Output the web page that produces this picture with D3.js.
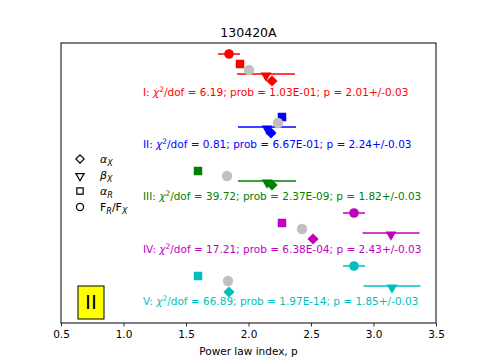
<!DOCTYPE html>
<html>
<head>
<meta charset="utf-8">
<script src="https://cdn.jsdelivr.net/npm/d3@7"></script>
<style>
  body { margin: 0; background: #fff; }
  text { font-family: "DejaVu Sans", sans-serif; }
</style>
</head>
<body>
<svg width="485" height="364"></svg>
<script>
// rows of the fit, one colour each
var rowNames = ["I", "II", "III", "IV", "V"];
var rowColors = ["#ff0000", "#0000ff", "#008000", "#bf00bf", "#00bfbf"];
var chi2 = ["6.19", "0.81", "39.72", "17.21", "66.89"];
var probs = ["1.03E-01", "6.67E-01", "2.37E-09", "6.38E-04", "1.97E-14"];
var pvals = ["2.01", "2.24", "1.82", "2.43", "1.85"];
var perrs = ["0.03", "0.03", "0.03", "0.03", "0.03"];
var textX = 1.156;
var textY = [11.35, 8.75, 6.15, 3.5, 0.9];

// alpha_X (diamonds)
var alphaX = [2.188, 2.18, 2.188, 2.516, 1.844];
var alphaXY = [12.1, 9.5, 6.9, 4.2, 1.55];
// beta_X (triangles, with error)
var betaX = [2.14, 2.148, 2.148, 3.14, 3.148];
var betaXErr = [0.232, 0.232, 0.232, 0.228, 0.228];
var betaXY = [12.45, 9.8, 7.1, 4.5, 1.85];
// alpha_R (squares)
var alphaR = [1.932, 2.268, 1.596, 2.268, 1.596];
var alphaRY = [12.95, 10.3, 7.6, 5.0, 2.35];
// F_R/F_X (circles, with error); none for II and III
var ratio = [1.844, null, null, 2.844, 2.844];
var ratioErr = [0.088, null, null, 0.088, 0.088];
var ratioY = [13.45, null, null, 5.5, 2.85];
// grey reference points
var grey = [2.004, 2.236, 1.828, 2.428, 1.836];
var greyY = [12.65, 10.0, 7.35, 4.7, 2.1];

var xTicks = [0.5, 1.0, 1.5, 2.0, 2.5, 3.0, 3.5];

var svg = d3.select("svg");
var pLeft = 61, pRight = 436, pTop = 43, pBottom = 323;

var x = d3.scaleLinear().domain([0.5, 3.5]).range([pLeft, pRight]);
var y = d3.scaleLinear().domain([0, 14]).range([pBottom, pTop]);

svg.append("text")
  .attr("x", (pLeft + pRight) / 2).attr("y", 37)
  .attr("text-anchor", "middle")
  .style("font-size", "12.5px")
  .text("130420A");

var xAxis = d3.axisBottom(x).tickValues(xTicks).tickFormat(d3.format(".1f")).tickSize(3.5).tickPadding(4.5);
var gx = svg.append("g").attr("transform", "translate(0," + pBottom + ")").call(xAxis);
gx.select(".domain").remove();
gx.selectAll("text").style("font-size", "10.5px").style("font-family", "DejaVu Sans");
gx.selectAll("line").attr("stroke", "#000").attr("stroke-width", 0.8);

svg.append("text")
  .attr("x", (pLeft + pRight) / 2).attr("y", 355)
  .attr("text-anchor", "middle")
  .style("font-size", "10.5px")
  .text("Power law index, p");

var plot = svg.append("g");

var sym = {
  diamond: d3.symbol().type(d3.symbolSquare).size(62),
  tri: d3.symbol().type(d3.symbolTriangle).size(50),
  square: d3.symbol().type(d3.symbolSquare).size(72)
};

// beta_X error bars and triangles
rowNames.forEach(function(r, i) {
  var c = rowColors[i];
  plot.append("line")
    .attr("x1", x(betaX[i] - betaXErr[i])).attr("x2", x(betaX[i] + betaXErr[i]))
    .attr("y1", y(betaXY[i])).attr("y2", y(betaXY[i]))
    .attr("stroke", c).attr("stroke-width", 1.5);
  plot.append("path")
    .attr("d", sym.tri())
    .attr("transform", "translate(" + x(betaX[i]) + "," + y(betaXY[i]) + ") rotate(180) translate(0,-1.5)")
    .attr("fill", c);
});

// alpha_X diamonds
rowNames.forEach(function(r, i) {
  plot.append("path")
    .attr("d", sym.diamond())
    .attr("transform", "translate(" + x(alphaX[i]) + "," + y(alphaXY[i]) + ") rotate(45)")
    .attr("fill", rowColors[i]);
});

// alpha_R squares
rowNames.forEach(function(r, i) {
  plot.append("path")
    .attr("d", sym.square())
    .attr("transform", "translate(" + x(alphaR[i]) + "," + y(alphaRY[i]) + ")")
    .attr("fill", rowColors[i]);
});

// grey points
rowNames.forEach(function(r, i) {
  plot.append("circle")
    .attr("cx", x(grey[i])).attr("cy", y(greyY[i])).attr("r", 5.2)
    .attr("fill", "#c0c0c0");
});

// F_R/F_X circles with errors
rowNames.forEach(function(r, i) {
  if (ratio[i] == null) return;
  var c = rowColors[i];
  plot.append("line")
    .attr("x1", x(ratio[i] - ratioErr[i])).attr("x2", x(ratio[i] + ratioErr[i]))
    .attr("y1", y(ratioY[i])).attr("y2", y(ratioY[i]))
    .attr("stroke", c).attr("stroke-width", 1.5);
  plot.append("circle")
    .attr("cx", x(ratio[i])).attr("cy", y(ratioY[i])).attr("r", 4.8)
    .attr("fill", c);
});

// row labels
rowNames.forEach(function(r, i) {
  var t = plot.append("text")
    .attr("x", x(textX)).attr("y", y(textY[i]))
    .attr("fill", rowColors[i])
    .style("font-size", "10.5px");
  t.append("tspan").text(r + ": ");
  t.append("tspan").style("font-style", "italic").text("\u03c7");
  t.append("tspan").attr("dy", -4).style("font-size", "7.5px").text("2");
  t.append("tspan").attr("dy", 4).text("/dof = " + chi2[i] + "; prob = " + probs[i] + "; p = " + pvals[i] + "+/-" + perrs[i]);
});

// legend
var legItems = [
  {shape: "diamond", main: "\u03b1", sub: "X", sub2: null},
  {shape: "tri", main: "\u03b2", sub: "X", sub2: null},
  {shape: "square", main: "\u03b1", sub: "R", sub2: null},
  {shape: "circle", main: "F", sub: "R", sub2: "X"}
];
var legY = [159, 175, 191, 207];
var leg = svg.append("g");
legItems.forEach(function(d, i) {
  var p = leg.append("path").attr("fill", "none").attr("stroke", "#000").attr("stroke-width", 1.2);
  if (d.shape == "diamond") p.attr("d", d3.symbol().type(d3.symbolSquare).size(34)()).attr("transform", "translate(80," + legY[i] + ") rotate(45)");
  if (d.shape == "tri") p.attr("d", d3.symbol().type(d3.symbolTriangle).size(30)()).attr("transform", "translate(80," + legY[i] + ") rotate(180) translate(0,-1)");
  if (d.shape == "square") p.attr("d", d3.symbol().type(d3.symbolSquare).size(40)()).attr("transform", "translate(80," + legY[i] + ")");
  if (d.shape == "circle") p.attr("d", d3.symbol().type(d3.symbolCircle).size(40)()).attr("transform", "translate(80," + legY[i] + ")");
  var t = leg.append("text").attr("x", 100).attr("y", legY[i] + 4).style("font-size", "11px");
  if (d.sub2 == null) {
    t.append("tspan").style("font-style", "italic").text(d.main);
    t.append("tspan").attr("dy", 2.5).style("font-size", "8px").style("font-style", "italic").text(d.sub);
  } else {
    t.append("tspan").text(d.main);
    t.append("tspan").attr("dy", 2.5).style("font-size", "8px").style("font-style", "italic").text(d.sub);
    t.append("tspan").attr("dy", -2.5).text("/F");
    t.append("tspan").attr("dy", 2.5).style("font-size", "8px").style("font-style", "italic").text(d.sub2);
  }
});

// yellow tag
svg.append("rect").attr("x", 78).attr("y", 286).attr("width", 26).attr("height", 33)
  .attr("fill", "#ffff00").attr("stroke", "#000").attr("stroke-width", 1);
svg.append("text").attr("x", 91).attr("y", 309).attr("text-anchor", "middle")
  .style("font-size", "20px").text("II");

// frame
svg.append("rect").attr("x", pLeft).attr("y", pTop).attr("width", pRight - pLeft).attr("height", pBottom - pTop)
  .attr("fill", "none").attr("stroke", "#000").attr("stroke-width", 1);
</script>
</body>
</html>
